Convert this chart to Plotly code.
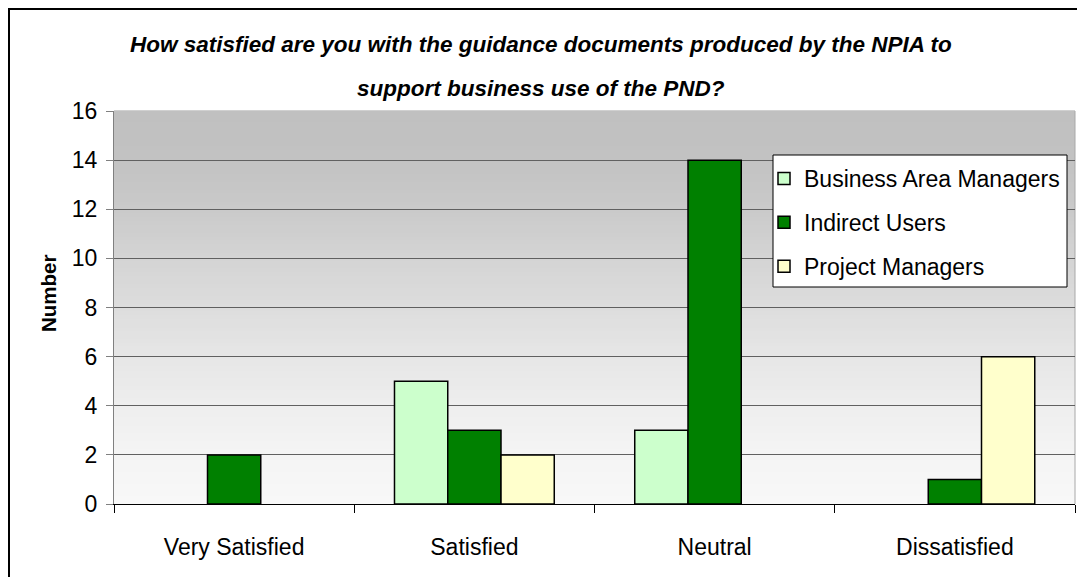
import plotly.graph_objects as go

categories = ["Very Satisfied", "Satisfied", "Neutral", "Dissatisfied"]
series_names = ["Business Area Managers", "Indirect Users", "Project Managers"]
business_area_managers = [None, 5, 3, None]
indirect_users = [2, 3, 14, 1]
project_managers = [None, 2, None, 6]
series_values = [business_area_managers, indirect_users, project_managers]
series_colors = ["#CCFFCC", "#008000", "#FFFFCC"]

title_line1 = "How satisfied are you with the guidance documents produced by the NPIA to"
title_line2 = "support business use of the PND?"
y_title = "Number"

# page has an 8px body margin; figure sized to fit inside the window
OFF = 8
W, H = 1085 - 2 * OFF, 585 - 2 * OFF
# plot area in page pixels
PL, PR, PT, PB = 114, 1075, 111, 504
L, T = PL - OFF, PT - OFF
R = W - (PR - OFF)
B = H - (PB - OFF)
pw, ph = PR - PL, PB - PT

def px_to_paper_x(px):
    return (px - PL) / pw

def px_to_paper_y(py):
    return (PB - py) / ph

FONT = "Liberation Sans, Arial, sans-serif"

fig = go.Figure()
for name, vals, col in zip(series_names, series_values, series_colors):
    fig.add_trace(go.Bar(
        x=categories, y=vals, name=name, legendgroup=name,
        marker=dict(color=col, line=dict(color="#000000", width=1.5)),
    ))

# gradient background (style only): stops on the domain fraction
stops = [(0.0, 248), (0.125, 244), (0.25, 238), (0.375, 230), (0.5, 221),
         (0.625, 212), (0.75, 202), (0.875, 194), (1.0, 192)]

def grey_at(f):
    for (f0, g0), (f1, g1) in zip(stops[:-1], stops[1:]):
        if f0 <= f <= f1:
            return g0 + (g1 - g0) * (f - f0) / (f1 - f0)
    return stops[-1][1]

shapes = []
n = 100
for i in range(n):
    f0, f1 = i / n, (i + 1) / n
    g = int(round(grey_at((f0 + f1) / 2)))
    shapes.append(dict(type="rect", xref="x domain", yref="y domain",
                       x0=0, x1=1, y0=f0, y1=f1 + 0.002,
                       fillcolor=f"rgb({g},{g},{g})", line=dict(width=0),
                       layer="below"))
# right edge of plot area
shapes.append(dict(type="line", xref="x domain", yref="y domain", x0=1, x1=1,
                   y0=0, y1=1, line=dict(color="#A8A8A8", width=1), layer="below"))
# outer chart frame
shapes.append(dict(type="rect", xref="paper", yref="paper",
                   x0=px_to_paper_x(9), x1=px_to_paper_x(1110),
                   y0=px_to_paper_y(620), y1=px_to_paper_y(9),
                   line=dict(color="#000000", width=2), fillcolor="rgba(0,0,0,0)"))
# legend box
shapes.append(dict(type="rect", xref="paper", yref="paper", layer="above",
                   x0=px_to_paper_x(773), x1=px_to_paper_x(1067),
                   y0=px_to_paper_y(287), y1=px_to_paper_y(155),
                   line=dict(color="#000000", width=1), fillcolor="#FFFFFF"))

annotations = [
    dict(text=f"<b><i>{title_line1}</i></b>", xref="paper", yref="paper",
         x=px_to_paper_x(541), y=px_to_paper_y(45), xanchor="center", yanchor="middle",
         showarrow=False, font=dict(family=FONT, size=22.5, color="#000000")),
    dict(text=f"<b><i>{title_line2}</i></b>", xref="paper", yref="paper",
         x=px_to_paper_x(541), y=px_to_paper_y(88), xanchor="center", yanchor="middle",
         showarrow=False, font=dict(family=FONT, size=22.5, color="#000000")),
    dict(text=f"<b>{y_title}</b>", xref="paper", yref="paper", textangle=-90,
         x=px_to_paper_x(48), y=px_to_paper_y(294), xanchor="center", yanchor="middle",
         showarrow=False, font=dict(family=FONT, size=20.5, color="#000000")),
]

fig.update_layout(
    width=W, height=H,
    margin=dict(l=L, r=R, t=T, b=B, pad=0),
    paper_bgcolor="#FFFFFF", plot_bgcolor="#F8F8F8",
    barmode="group", bargap=0.335, bargroupgap=0,
    font=dict(family=FONT, size=23, color="#000000"),
    shapes=shapes, annotations=annotations,
    showlegend=True,
    legend=dict(x=px_to_paper_x(764), y=px_to_paper_y(157), xanchor="left", yanchor="top",
                bgcolor="rgba(0,0,0,0)", borderwidth=0,
                font=dict(family=FONT, size=23, color="#000000"),
                traceorder="grouped", tracegroupgap=11, itemwidth=30),
    xaxis=dict(type="category", showgrid=False, showline=True, linecolor="#000000",
               linewidth=1, ticks="outside", ticklen=8, tickcolor="#000000",
               tickson="boundaries", ticklabelstandoff=22,
               tickfont=dict(family=FONT, size=23, color="#000000")),
    yaxis=dict(range=[0, 16], dtick=2, showgrid=True, gridcolor="#606060", gridwidth=1,
               showline=True, linecolor="#808080", linewidth=1, ticks="outside",
               ticklen=7, tickcolor="#808080", zeroline=False, ticklabelstandoff=4,
               tickfont=dict(family=FONT, size=23, color="#000000")),
)

fig.write_html("out.html")
